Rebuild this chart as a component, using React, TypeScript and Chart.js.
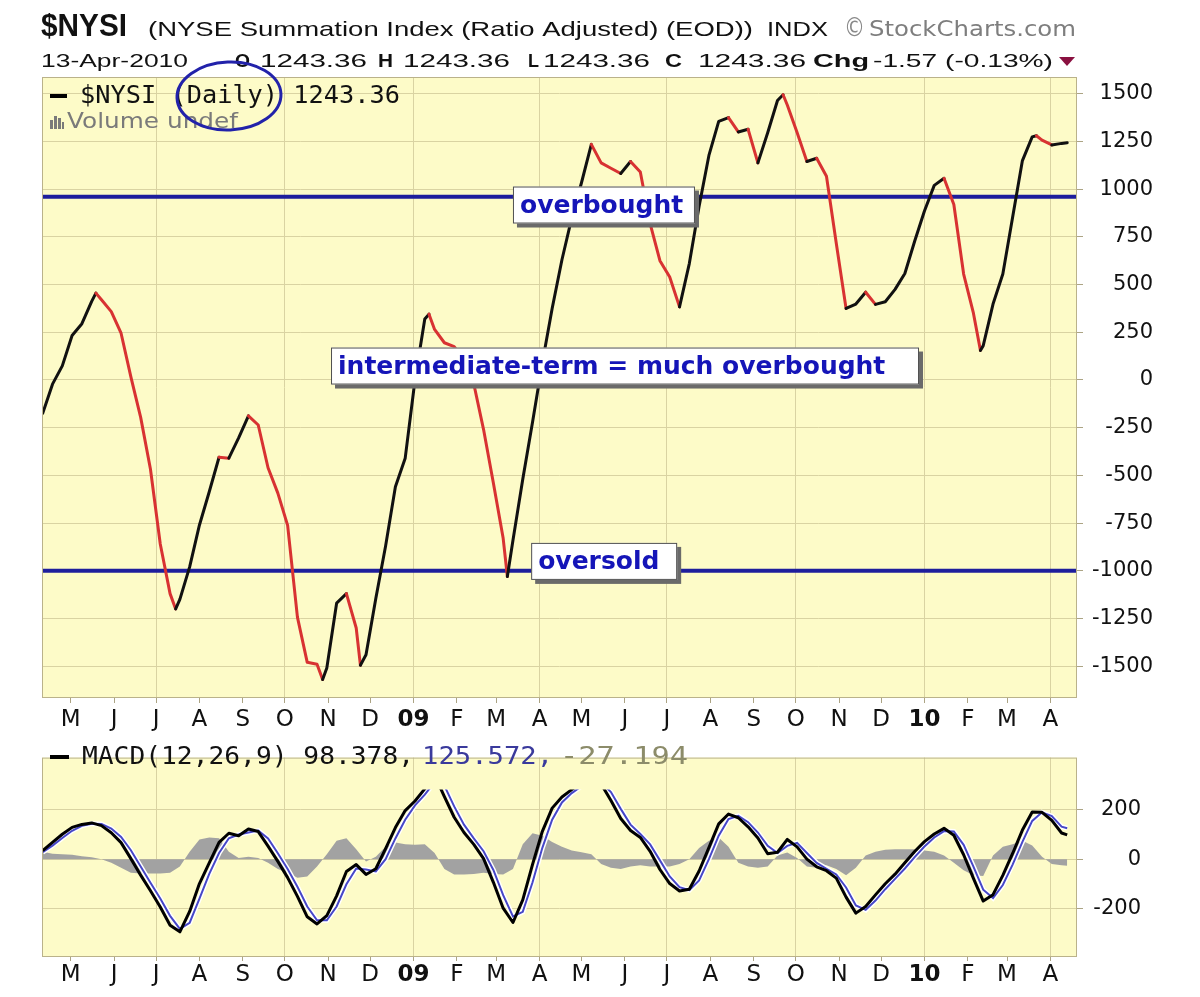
import { useEffect, useRef } from 'react';
import { Chart, registerables } from 'chart.js';

Chart.register(...registerables);

// ---------------- data ----------------
const weeklyDates = [
  '2008-04-11', '2008-04-18', '2008-04-25',
  '2008-05-02', '2008-05-09', '2008-05-16', '2008-05-23', '2008-05-30',
  '2008-06-06', '2008-06-13', '2008-06-20', '2008-06-27',
  '2008-07-04', '2008-07-11', '2008-07-18', '2008-07-25',
  '2008-08-01', '2008-08-08', '2008-08-15', '2008-08-22', '2008-08-29',
  '2008-09-05', '2008-09-12', '2008-09-19', '2008-09-26',
  '2008-10-03', '2008-10-10', '2008-10-17', '2008-10-24', '2008-10-31',
  '2008-11-07', '2008-11-14', '2008-11-21', '2008-11-28',
  '2008-12-05', '2008-12-12', '2008-12-19', '2008-12-26',
  '2009-01-02', '2009-01-09', '2009-01-16', '2009-01-23', '2009-01-30',
  '2009-02-06', '2009-02-13', '2009-02-20', '2009-02-27',
  '2009-03-06', '2009-03-13', '2009-03-20', '2009-03-27',
  '2009-04-03', '2009-04-10', '2009-04-17', '2009-04-24',
  '2009-05-01', '2009-05-08', '2009-05-15', '2009-05-22', '2009-05-29',
  '2009-06-05', '2009-06-12', '2009-06-19', '2009-06-26',
  '2009-07-03', '2009-07-10', '2009-07-17', '2009-07-24', '2009-07-31',
  '2009-08-07', '2009-08-14', '2009-08-21', '2009-08-28',
  '2009-09-04', '2009-09-11', '2009-09-18', '2009-09-25',
  '2009-10-02', '2009-10-09', '2009-10-16', '2009-10-23', '2009-10-30',
  '2009-11-06', '2009-11-13', '2009-11-20', '2009-11-27',
  '2009-12-04', '2009-12-11', '2009-12-18', '2009-12-25',
  '2010-01-01', '2010-01-08', '2010-01-15', '2010-01-22', '2010-01-29',
  '2010-02-05', '2010-02-12', '2010-02-19', '2010-02-26',
  '2010-03-05', '2010-03-12', '2010-03-19', '2010-03-26',
  '2010-04-02', '2010-04-09', '2010-04-13',
];

const nysiWeekly = [
  -175, -22, 74,
  233, 295, 412, 420, 358,
  245, 16, -196, -468,
  -860, -1120, -1150, -980,
  -760, -586, -405, -410, -304,
  -188, -236, -460, -593,
  -762, -1243, -1480, -1490, -1510,
  -1170, -1120, -1300, -1440,
  -1145, -870, -560, -410,
  0, 320, 265, 195, 175,
  110, -20, -260, -540,
  -830, -840, -520, -220,
  90, 375, 630, 850,
  1035, 1235, 1138, 1110, 1082,
  1145, 1090, 820, 625,
  540, 383, 610, 910, 1177,
  1355, 1375, 1300, 1314,
  1138, 1296, 1465, 1441,
  1297, 1145, 1162, 1068, 717,
  375, 398, 460, 396,
  410, 475, 558, 727,
  886, 1020, 1057, 920, 555,
  350, 180, 398, 555,
  853, 1150, 1274, 1257,
  1232, 1240, 1243.36,
];

const nysiTurnDates = ['2008-05-19', '2008-07-15', '2008-10-28', '2008-11-24', '2009-01-12', '2009-03-09', '2009-09-22', '2010-02-10', '2010-03-22'];
const nysiTurnValues = [455, -1200, -1570, -1495, 345, -1030, 1495, 155, 1280];

const macdValues = [
  35, 68, 101,
  129, 141, 147, 136, 107,
  67, 2, -65, -128,
  -194, -268, -295, -212,
  -99, -15, 68, 105, 95,
  122, 112, 53, -9,
  -75, -151, -234, -263, -229,
  -149, -50, -22, -62,
  -39, 43, 128, 197,
  236, 285, 340, 254, 170,
  108, 60, 2, -94,
  -199, -257, -165, -21,
  113, 207, 252, 282,
  310, 320, 305, 238, 165,
  116, 88, 32, -42,
  -99, -129, -122, -48, 47,
  143, 183, 168, 131,
  86, 22, 28, 80,
  50, 0, -31, -47, -77,
  -154, -219, -192, -145,
  -100, -61, -15, 31,
  71, 102, 125, 97, 18,
  -78, -170, -144, -66,
  23, 118, 191, 190,
  157, 106, 98.378,
];

const signalValues = [
  28, 55, 86,
  115, 135, 144, 143, 124,
  90, 36, -30, -96,
  -160, -230, -283, -258,
  -160, -60, 25, 85, 100,
  108, 116, 84, 24,
  -40, -112, -192, -248, -248,
  -192, -102, -38, -42,
  -50, 0, 84, 160,
  218, 262, 312, 298, 214,
  140, 84, 32, -44,
  -146, -232, -214, -94,
  46, 160, 230, 268,
  296, 314, 312, 272, 204,
  140, 102, 60, -5,
  -70, -114, -126, -86, 0,
  95, 163, 176, 150,
  108, 54, 25, 54,
  66, 25, -15, -39, -62,
  -115, -188, -206, -168,
  -122, -80, -38, 8,
  51, 88, 114, 112, 58,
  -30, -124, -158, -105,
  -22, 70, 155, 190,
  175, 132, 125.572,
];

const histogramValues = [
  30, 22, 20,
  18, 12, 8, 0, -15,
  -35, -55, -58, -58,
  -58, -55, -30, 30,
  80, 88, 85, 30, 5,
  10, 5, -15, -40,
  -55, -75, -70, -30, 20,
  75, 85, 40, -10,
  10, 50, 68, 60,
  58, 60, 25, -40, -62,
  -62, -60, -55, -60,
  -62, -40, 60, 105,
  95, 70, 50, 35,
  28, 20, -20, -35, -40,
  -30, -25, -30, -30,
  -30, -20, 0, 45, 75,
  88, 50, -15, -30,
  -35, -30, 15, 27,
  5, -30, -35, -25, -40,
  -65, -35, 15, 30,
  38, 40, 40, 40,
  35, 30, 15, -15, -45,
  -65, -68, 15, 50,
  60, 75, 55, 10,
  -20, -25, -27.194,
];

const nysiTickValues = [-1500, -1250, -1000, -750, -500, -250, 0, 250, 500, 750, 1000, 1250, 1500];
const macdTickValues = [-200, 0, 200];

const monthTickDates = [
  '2008-05-01', '2008-06-01', '2008-07-01', '2008-08-01', '2008-09-01', '2008-10-01', '2008-11-01', '2008-12-01',
  '2009-01-01', '2009-02-01', '2009-03-01', '2009-04-01', '2009-05-01', '2009-06-01', '2009-07-01', '2009-08-01',
  '2009-09-01', '2009-10-01', '2009-11-01', '2009-12-01', '2010-01-01', '2010-02-01', '2010-03-01', '2010-04-01',
];
const monthTickLabels = ['M', 'J', 'J', 'A', 'S', 'O', 'N', 'D', '09', 'F', 'M', 'A', 'M', 'J', 'J', 'A', 'S', 'O', 'N', 'D', '10', 'F', 'M', 'A'];

const overboughtLevel = 960;
const oversoldLevel = -1000;

const noteTexts = ['overbought', 'intermediate-term = much overbought', 'oversold'];
const noteDates = ['2009-03-13', '2008-11-03', '2009-03-26'];
const noteValues = [917, 73, -951];

// ---------------- layout / style ----------------
const NOTE_BOX_W = [182, 588, 146];
const NOTE_BOX_H = 37;

const PANEL_BG = '#fdfbc8';
const GRID = '#d9d3a2';
const TICK_MARK = '#aca484';
const FRAME = '#bab28a';
const LEVEL = '#1e1e9c';
const RED = '#d83232';
const BLACK = '#111111';
const NOTE_TEXT = '#1515b8';

const DAY0 = Date.UTC(2008, 0, 1);
function dayNum(s: string) {
  const [y, m, d] = s.split('-').map(Number);
  return (Date.UTC(y, m - 1, d) - DAY0) / 86400000;
}
const X_MIN = 100.5;
const X_MAX = 840;

const nysiPoints = [
  ...weeklyDates.map((d, i) => ({ x: dayNum(d), y: nysiWeekly[i] })),
  ...nysiTurnDates.map((d, i) => ({ x: dayNum(d), y: nysiTurnValues[i] })),
].sort((a, b) => a.x - b.x);

const macdPoints = weeklyDates.map((d, i) => ({ x: dayNum(d), y: macdValues[i] }));
const signalPoints = weeklyDates.map((d, i) => ({ x: dayNum(d), y: signalValues[i] }));
const histPoints = weeklyDates.map((d, i) => ({ x: dayNum(d), y: histogramValues[i] }));

function fitText(ctx: CanvasRenderingContext2D, text: string, x: number, y: number, width: number, font: string, color: string, baseline: CanvasTextBaseline = 'alphabetic') {
  ctx.save();
  ctx.font = font;
  ctx.fillStyle = color;
  ctx.textAlign = 'left';
  ctx.textBaseline = baseline;
  const w = ctx.measureText(text).width || 1;
  ctx.translate(x, y);
  ctx.scale(width / w, 1);
  ctx.fillText(text, 0, 0);
  ctx.restore();
}

const SANS = '"Liberation Sans", Arial, sans-serif';
const headerLine1 = [
  { text: '$NYSI', x: 41, w: 86, font: `bold 32px ${SANS}` },
  { text: '(NYSE Summation Index (Ratio Adjusted) (EOD))', x: 148, w: 605, font: `21px ${SANS}` },
  { text: 'INDX', x: 767, w: 61, font: `21px ${SANS}` },
];
const headerLine2 = [
  { text: '13-Apr-2010', x: 41, w: 147, bold: false },
  { text: 'O', x: 235, w: 15, bold: true },
  { text: '1243.36', x: 260, w: 107, bold: false },
  { text: 'H', x: 378, w: 15, bold: true },
  { text: '1243.36', x: 403, w: 107, bold: false },
  { text: 'L', x: 528, w: 11, bold: true },
  { text: '1243.36', x: 543, w: 107, bold: false },
  { text: 'C', x: 665, w: 17, bold: true },
  { text: '1243.36', x: 698, w: 108, bold: false },
  { text: 'Chg', x: 813, w: 56, bold: true },
  { text: '-1.57 (-0.13%)', x: 873, w: 180, bold: false },
];

function panelBg(chart: any) {
  const { ctx, chartArea: a } = chart;
  ctx.save();
  ctx.fillStyle = '#ffffff';
  ctx.fillRect(0, 0, chart.width, chart.height);
  ctx.fillStyle = PANEL_BG;
  ctx.fillRect(a.left, a.top, a.right - a.left, a.bottom - a.top);
  ctx.restore();
}
function panelFrame(chart: any) {
  const { ctx, chartArea: a } = chart;
  ctx.save();
  ctx.strokeStyle = FRAME;
  ctx.lineWidth = 1;
  ctx.strokeRect(a.left + 0.5, a.top + 0.5, a.right - a.left - 1, a.bottom - a.top - 1);
  ctx.restore();
}

const mainDecor = {
  id: 'mainDecor',
  beforeDraw(chart: any) { panelBg(chart); },
  beforeDatasetsDraw(chart: any) {
    const { ctx, chartArea: a, scales } = chart;
    ctx.save();
    ctx.strokeStyle = LEVEL;
    ctx.lineWidth = 4;
    [overboughtLevel, oversoldLevel].forEach((lv) => {
      const y = scales.y.getPixelForValue(lv);
      ctx.beginPath();
      ctx.moveTo(a.left, y);
      ctx.lineTo(a.right, y);
      ctx.stroke();
    });
    ctx.restore();
  },
  afterDatasetsDraw(chart: any) {
    panelFrame(chart);
    const { ctx, scales } = chart;
    noteTexts.forEach((t, i) => {
      const left = scales.x.getPixelForValue(dayNum(noteDates[i]));
      const cy = scales.y.getPixelForValue(noteValues[i]);
      const w = NOTE_BOX_W[i];
      const h = NOTE_BOX_H;
      const top = cy - h / 2;
      ctx.save();
      ctx.fillStyle = '#6a6a6a';
      ctx.fillRect(left + 4, top + 4, w, h);
      ctx.fillStyle = '#ffffff';
      ctx.fillRect(left, top, w, h);
      ctx.strokeStyle = '#505050';
      ctx.lineWidth = 1;
      ctx.strokeRect(left + 0.5, top + 0.5, w - 1, h - 1);
      ctx.fillStyle = NOTE_TEXT;
      ctx.font = 'bold 25px "DejaVu Sans"';
      ctx.textBaseline = 'middle';
      ctx.textAlign = 'left';
      ctx.fillText(t, left + 7, cy + 1);
      ctx.restore();
    });
  },
  afterDraw(chart: any) {
    const { ctx } = chart;
    headerLine1.forEach((h) => fitText(ctx, h.text, h.x, 36, h.w, h.font, '#111'));
    fitText(ctx, '©', 844, 36, 21, '26px "DejaVu Sans"', '#8a8a8a');
    fitText(ctx, 'StockCharts.com', 869, 36, 207, '22px "DejaVu Sans"', '#7e7e7e');
    headerLine2.forEach((h) => fitText(ctx, h.text, h.x, 67, h.w, `${h.bold ? 'bold ' : ''}19px ${SANS}`, '#111'));
    ctx.save();
    ctx.fillStyle = '#8a1040';
    ctx.beginPath();
    ctx.moveTo(1059, 57);
    ctx.lineTo(1075, 57);
    ctx.lineTo(1067, 66);
    ctx.closePath();
    ctx.fill();
    ctx.restore();
    ctx.save();
    ctx.strokeStyle = '#000';
    ctx.lineWidth = 4;
    ctx.beginPath();
    ctx.moveTo(50, 96);
    ctx.lineTo(67, 96);
    ctx.stroke();
    ctx.fillStyle = '#7a7a7a';
    ctx.fillRect(50, 120, 3, 9);
    ctx.fillRect(54, 116, 3, 13);
    ctx.fillRect(58, 118, 3, 11);
    ctx.fillRect(62, 122, 2, 7);
    ctx.restore();
    fitText(ctx, '$NYSI (Daily) 1243.36', 80, 96, 320, '25px "DejaVu Sans Mono"', '#111', 'middle');
    fitText(ctx, 'Volume undef', 67, 122, 171, '22px "DejaVu Sans"', '#7a7a7a', 'middle');
    ctx.save();
    ctx.strokeStyle = '#2222aa';
    ctx.lineWidth = 3;
    ctx.beginPath();
    ctx.ellipse(229, 96, 52, 34, -0.04, 0, Math.PI * 2);
    ctx.stroke();
    ctx.restore();
  },
};

const macdDecor = {
  id: 'macdDecor',
  beforeDraw(chart: any) { panelBg(chart); },
  afterDatasetsDraw(chart: any) { panelFrame(chart); },
  afterDraw(chart: any) {
    const { ctx } = chart;
    ctx.save();
    ctx.strokeStyle = '#000';
    ctx.lineWidth = 4;
    ctx.beginPath();
    ctx.moveTo(50, 22);
    ctx.lineTo(69, 22);
    ctx.stroke();
    ctx.restore();
    const f = '25px "DejaVu Sans Mono"';
    fitText(ctx, 'MACD(12,26,9) 98.378,', 82, 22, 332, f, '#111', 'middle');
    fitText(ctx, '125.572,', 422, 22, 131, f, '#3a3a9c', 'middle');
    fitText(ctx, '-27.194', 560, 22, 128, f, '#8c8c6a', 'middle');
  },
};

function monthAxis(tickLength: number, pad: number, height: number) {
  return {
    type: 'linear',
    position: 'bottom',
    min: X_MIN,
    max: X_MAX,
    afterBuildTicks: (s: any) => { s.ticks = monthTickDates.map((d) => ({ value: dayNum(d) })); },
    afterFit: (s: any) => { s.height = height; },
    grid: {
      color: (c: any) => {
        const d = monthTickDates[c.index];
        if (!d) return 'transparent';
        return Number(d.slice(5, 7)) % 3 === 1 ? GRID : 'transparent';
      },
      tickColor: TICK_MARK,
      tickLength,
      drawTicks: true,
    },
    border: { display: false },
    ticks: {
      autoSkip: false,
      maxRotation: 0,
      minRotation: 0,
      padding: pad,
      color: '#111',
      callback: (_v: any, i: number) => monthTickLabels[i],
      font: (c: any) => ({ family: 'DejaVu Sans', size: 23, weight: (monthTickLabels[c.index] || '').length === 2 ? 'bold' : 'normal' }),
    },
  };
}

const lineClip = { left: 0, top: -32, right: 0, bottom: 0 };

export default function App() {
  const topRef = useRef<HTMLCanvasElement>(null);
  const botRef = useRef<HTMLCanvasElement>(null);

  useEffect(() => {
    Chart.defaults.font.family = 'DejaVu Sans';
    const top = new Chart(topRef.current as HTMLCanvasElement, {
      type: 'line',
      data: {
        datasets: [
          {
            data: nysiPoints as any,
            borderColor: BLACK,
            borderWidth: 3,
            pointRadius: 0,
            tension: 0,
            borderJoinStyle: 'round',
            borderCapStyle: 'round',
            segment: { borderColor: (c: any) => (c.p1.parsed.y < c.p0.parsed.y ? RED : BLACK) },
          } as any,
        ],
      },
      options: {
        responsive: false,
        maintainAspectRatio: false,
        animation: false,
        devicePixelRatio: 1,
        events: [],
        layout: { padding: { left: 42, top: 77, right: 47, bottom: 0 } },
        plugins: { legend: { display: false }, tooltip: { enabled: false } },
        scales: {
          x: monthAxis(5, 3, 37) as any,
          y: {
            type: 'linear',
            position: 'right',
            min: -1667,
            max: 1588,
            afterBuildTicks: (s: any) => { s.ticks = nysiTickValues.map((v) => ({ value: v })); },
            afterFit: (s: any) => { s.width = 76; },
            grid: { color: GRID, tickColor: TICK_MARK, tickLength: 6 },
            border: { display: false },
            ticks: { crossAlign: 'far', padding: 9, color: '#111', font: { family: 'DejaVu Sans', size: 21 }, callback: (v: any) => String(v) },
          } as any,
        },
      },
      plugins: [mainDecor],
    });

    const bot = new Chart(botRef.current as HTMLCanvasElement, {
      type: 'line',
      data: {
        datasets: [
          { data: histPoints as any, fill: 'origin', backgroundColor: '#a2a2a2', borderColor: '#a2a2a2', borderWidth: 0, pointRadius: 0, tension: 0, order: 5 } as any,
          { data: signalPoints as any, borderColor: '#ffffff', borderWidth: 5, pointRadius: 0, tension: 0, order: 4, clip: lineClip } as any,
          { data: signalPoints as any, borderColor: '#4646c8', borderWidth: 2, pointRadius: 0, tension: 0, order: 3, clip: lineClip } as any,
          { data: macdPoints as any, borderColor: '#000000', borderWidth: 3, pointRadius: 0, tension: 0, order: 1, clip: lineClip, borderJoinStyle: 'round' } as any,
        ],
      },
      options: {
        responsive: false,
        maintainAspectRatio: false,
        animation: false,
        devicePixelRatio: 1,
        events: [],
        layout: { padding: { left: 42, top: 3, right: 59, bottom: 0 } },
        plugins: { legend: { display: false }, tooltip: { enabled: false } },
        scales: {
          x: monthAxis(4, 0, 40) as any,
          y: {
            type: 'linear',
            position: 'right',
            min: -397,
            max: 412,
            afterBuildTicks: (s: any) => { s.ticks = macdTickValues.map((v) => ({ value: v })); },
            afterFit: (s: any) => { s.width = 64; },
            grid: { color: GRID, tickColor: TICK_MARK, tickLength: 6 },
            border: { display: false },
            ticks: { crossAlign: 'far', padding: 10, color: '#111', font: { family: 'DejaVu Sans', size: 21 }, callback: (v: any) => String(v) },
          } as any,
        },
      },
      plugins: [macdDecor],
    });

    return () => {
      top.destroy();
      bot.destroy();
    };
  }, []);

  return (
    <div style={{ position: 'absolute', left: 0, top: 0, width: 1200, height: 997, background: '#ffffff', overflow: 'hidden' }}>
      <canvas ref={topRef} width={1200} height={735} style={{ position: 'absolute', left: 0, top: 0, width: 1200, height: 735 }} />
      <canvas ref={botRef} width={1200} height={262} style={{ position: 'absolute', left: 0, top: 735, width: 1200, height: 262 }} />
    </div>
  );
}
